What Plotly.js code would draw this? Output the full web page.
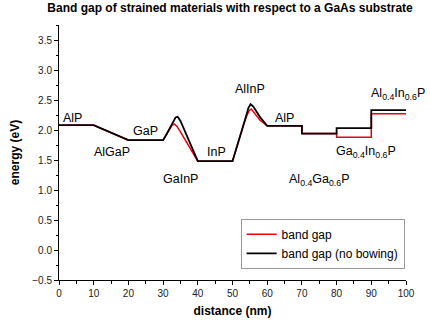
<!DOCTYPE html>
<html>
<head>
<meta charset="utf-8">
<script src="https://cdn.plot.ly/plotly-3.0.1.min.js"></script>
<style>html,body{margin:0;padding:0;background:#fff;}#chart{width:430px;height:325px;}</style>
</head>
<body>
<div id="chart"></div>
<script>
// distance (nm) and energy (eV)
const blackX = [0, 10, 20, 30, 31, 32, 33, 33.6, 34.2, 35, 36, 38, 40, 50, 51, 52, 53, 54, 54.6, 55.2, 56, 57, 58, 60, 70, 70, 80, 80, 90, 90, 100];
const blackY = [2.08, 2.08, 1.83, 1.83, 1.93, 2.04, 2.15, 2.21, 2.22, 2.15, 2.02, 1.75, 1.48, 1.48, 1.66, 1.85, 2.05, 2.25, 2.37, 2.43, 2.39, 2.30, 2.21, 2.07, 2.07, 1.94, 1.94, 2.03, 2.03, 2.33, 2.33];
const redX = [0, 10, 20, 30, 31, 32, 32.6, 33.2, 34, 35, 36, 38, 40, 50, 51, 52, 53, 54, 54.8, 55.4, 56, 57, 58, 60, 70, 70, 80, 80, 90, 90, 100];
const redY = [2.08, 2.08, 1.83, 1.83, 1.93, 2.03, 2.08, 2.10, 2.06, 1.97, 1.87, 1.67, 1.48, 1.48, 1.68, 1.88, 2.06, 2.22, 2.32, 2.35, 2.31, 2.23, 2.16, 2.07, 2.07, 1.94, 1.94, 1.88, 1.88, 2.27, 2.27];

const labelText = ["AlP", "AlGaP", "GaP", "GaInP", "InP", "AlInP", "AlP",
  "Al<sub>0.4</sub>Ga<sub>0.6</sub>P", "Ga<sub>0.4</sub>In<sub>0.6</sub>P", "Al<sub>0.4</sub>In<sub>0.6</sub>P"];
const labelX = [3.8, 15.2, 24.8, 35.0, 45.4, 54.9, 64.9, 75.0, 88.4, 97.6];
const labelY = [2.2, 1.64, 1.99, 1.18, 1.64, 2.68, 2.2, 1.17, 1.63, 2.6];

const traces = [
  {x: redX, y: redY, mode: 'lines', name: 'band gap', line: {color: '#e8000b', width: 1.5}},
  {x: blackX, y: blackY, mode: 'lines', name: 'band gap (no bowing)', line: {color: '#000000', width: 1.8}}
];

const annotations = labelText.map((t, i) => ({
  x: labelX[i], y: labelY[i], xref: 'x', yref: 'y', text: t, showarrow: false,
  xanchor: 'center', yanchor: 'middle',
  font: {family: 'Liberation Sans, Arial, sans-serif', size: 12.5, color: '#000'}
}));

const layout = {
  width: 430, height: 325,
  margin: {l: 59, r: 24, t: 25, b: 45},
  paper_bgcolor: '#fff', plot_bgcolor: '#fff',
  font: {family: 'Liberation Sans, Arial, sans-serif', color: '#000'},
  title: {text: '<b>Band gap of strained materials with respect to a GaAs substrate</b>',
    font: {size: 12, color: '#000'}, x: 0.535, xanchor: 'center', y: 0.975, yanchor: 'middle'},
  xaxis: {
    range: [0, 100], dtick: 10, tick0: 0, showgrid: false, zeroline: false,
    showline: true, linecolor: '#000', linewidth: 1, ticks: 'outside', ticklen: 4, tickcolor: '#000',
    tickfont: {size: 10, color: '#222'},
    minor: {dtick: 5, ticks: 'outside', ticklen: 2.5, tickcolor: '#000', showgrid: false},
    title: {text: '<b>distance (nm)</b>', font: {size: 12}, standoff: 8}
  },
  yaxis: {
    range: [-0.5, 3.75], dtick: 0.5, tick0: 0, showgrid: false, zeroline: false,
    showline: true, linecolor: '#000', linewidth: 1, ticks: 'outside', ticklen: 4, tickcolor: '#000',
    tickformat: '.1f', tickfont: {size: 10, color: '#222'},
    minor: {dtick: 0.25, ticks: 'outside', ticklen: 2.5, tickcolor: '#000', showgrid: false},
    title: {text: '<b>energy (eV)</b>', font: {size: 12}, standoff: 10}
  },
  showlegend: true,
  legend: {x: 0.996, xanchor: 'right', y: 0.24, yanchor: 'top', bgcolor: '#fff',
    bordercolor: '#999', borderwidth: 1, font: {size: 12, color: '#000'},
    tracegroupgap: 0, itemwidth: 30},
  annotations: annotations
};

Plotly.newPlot('chart', traces, layout, {displayModeBar: false, staticPlot: true});
</script>
</body>
</html>
